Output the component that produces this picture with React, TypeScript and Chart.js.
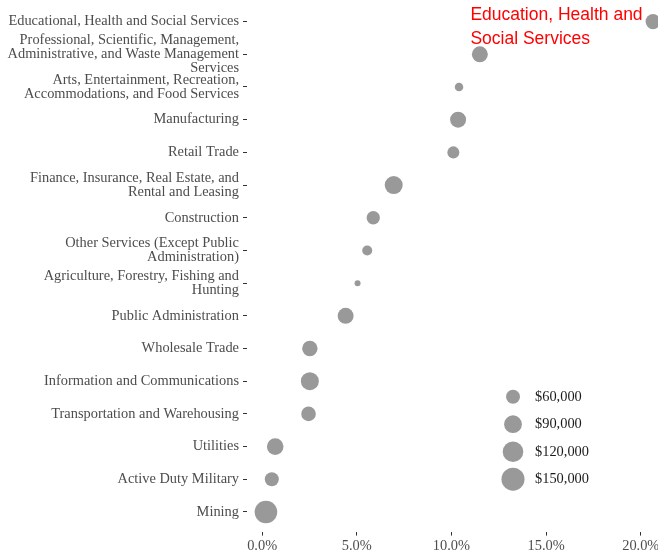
import React, { useEffect, useRef } from "react";
import { Chart, registerables } from "chart.js";

Chart.register(...registerables);

// ---- Data ----
const industries: (string | string[])[] = [
  "Educational, Health and Social Services",
  ["Professional, Scientific, Management,", "Administrative, and Waste Management", "Services"],
  ["Arts, Entertainment, Recreation,", "Accommodations, and Food Services"],
  "Manufacturing",
  "Retail Trade",
  ["Finance, Insurance, Real Estate, and", "Rental and Leasing"],
  "Construction",
  ["Other Services (Except Public", "Administration)"],
  ["Agriculture, Forestry, Fishing and", "Hunting"],
  "Public Administration",
  "Wholesale Trade",
  "Information and Communications",
  "Transportation and Warehousing",
  "Utilities",
  "Active Duty Military",
  "Mining",
];

// share of workforce, percent
const shares = [20.65, 11.5, 10.4, 10.35, 10.1, 6.95, 5.87, 5.55, 5.04, 4.41, 2.52, 2.52, 2.45, 0.69, 0.51, 0.2];

// median income, dollars
const medianIncome = [67000, 74000, 37000, 74000, 49000, 92000, 56000, 41000, 34500, 74000, 70000, 92000, 64000, 79000, 60000, 144500];

const legendIncomes = [60000, 90000, 120000, 150000];
const legendLabels = ["$60,000", "$90,000", "$120,000", "$150,000"];
const xTicks = [0, 5, 10, 15, 20];
const annotationLines = ["Education, Health and", "Social Services"];
const annotationX = 11;

// ---- Size scale (area-style mapping) ----
const INCOME_MIN = 34500;
const INCOME_SPAN = 110000;
const R_MIN = 3;
const R_SPAN = 8.3;
function radiusFor(v: number): number {
  const t = Math.max(0, (v - INCOME_MIN) / INCOME_SPAN);
  return R_MIN + R_SPAN * Math.sqrt(t);
}

const POINT_COLOR = "#999999";
const AXIS_TEXT = "#4D4D4D";
const SERIF = '"Liberation Serif", "Times New Roman", serif';
const SANS = '"Liberation Sans", Arial, sans-serif';

const overlayPlugin = {
  id: "overlay",
  afterDraw(chart: any) {
    const ctx = chart.ctx;
    const xs = chart.scales.x;
    const ys = chart.scales.y;
    ctx.save();
    // Size legend
    const lx = 513;
    const ly0 = 396.7;
    const lstep = 27.5;
    ctx.font = `14.4px ${SERIF}`;
    ctx.textBaseline = "middle";
    ctx.textAlign = "left";
    legendIncomes.forEach((v, i) => {
      const y = ly0 + i * lstep;
      ctx.beginPath();
      ctx.arc(lx, y, radiusFor(v), 0, Math.PI * 2);
      ctx.fillStyle = POINT_COLOR;
      ctx.fill();
      ctx.fillStyle = "#1A1A1A";
      ctx.fillText(legendLabels[i], 535, y + 0.5);
    });
    // Annotation
    ctx.fillStyle = "#FF0000";
    ctx.font = `17.5px ${SANS}`;
    ctx.textBaseline = "alphabetic";
    const ax = xs.getPixelForValue(annotationX);
    const ay = ys.getPixelForValue(0);
    annotationLines.forEach((line, i) => {
      ctx.fillText(line, ax, ay - 1.7 + i * 24.5);
    });
    ctx.restore();
  },
};

export default function App() {
  const canvasRef = useRef<HTMLCanvasElement | null>(null);

  useEffect(() => {
    const canvas = canvasRef.current;
    if (!canvas) return;
    const points = shares.map((s, i) => ({ x: s, y: i, r: radiusFor(medianIncome[i]) }));
    const chart = new Chart(canvas, {
      type: "bubble",
      data: {
        datasets: [
          {
            data: points,
            backgroundColor: POINT_COLOR,
            borderColor: POINT_COLOR,
            borderWidth: 0,
            hoverRadius: 0,
            hoverBorderWidth: 0,
          } as any,
        ],
      },
      options: {
        responsive: false,
        animation: false,
        events: [],
        layout: { padding: { top: 2, left: 0, right: 0, bottom: 0 }, autoPadding: false },
        plugins: {
          legend: { display: false },
          tooltip: { enabled: false },
        },
        scales: {
          x: {
            type: "linear",
            min: -0.8,
            max: 20.91,
            afterBuildTicks: (scale: any) => {
              scale.ticks = xTicks.map((v) => ({ value: v }));
            },
            afterFit: (scale: any) => {
              scale.height = 18.4;
              scale.paddingLeft = 0;
              scale.paddingRight = 0;
            },
            ticks: {
              callback: (v: any) => Number(v).toFixed(1) + "%",
              color: AXIS_TEXT,
              font: { family: SERIF, size: 14.4 },
              padding: 2,
              maxRotation: 0,
              autoSkip: false,
            },
            grid: {
              display: true,
              drawOnChartArea: false,
              drawTicks: true,
              tickLength: 4,
              color: "#333333",
              lineWidth: 1,
            },
            border: { display: false },
          },
          y: {
            type: "linear",
            reverse: true,
            min: -0.6,
            max: industries.length - 1 + 0.6,
            afterBuildTicks: (scale: any) => {
              scale.ticks = industries.map((_, i) => ({ value: i }));
            },
            afterFit: (scale: any) => {
              scale.width = 247;
              scale.paddingTop = 0;
              scale.paddingBottom = 0;
            },
            ticks: {
              callback: (v: any) => industries[Math.round(Number(v))] as any,
              color: AXIS_TEXT,
              font: { family: SERIF, size: 14.4, lineHeight: 1.0 },
              padding: 4,
              autoSkip: false,
            },
            grid: {
              display: true,
              drawOnChartArea: false,
              drawTicks: true,
              tickLength: 4,
              color: "#333333",
              lineWidth: 1,
            },
            border: { display: false },
          },
        },
      } as any,
      plugins: [overlayPlugin],
    });
    return () => chart.destroy();
  }, []);

  return (
    <div style={{ position: "absolute", left: 0, top: 0, width: 658, height: 550, background: "#fff" }}>
      <canvas ref={canvasRef} width={658} height={550} style={{ display: "block", width: 658, height: 550 }} />
    </div>
  );
}
